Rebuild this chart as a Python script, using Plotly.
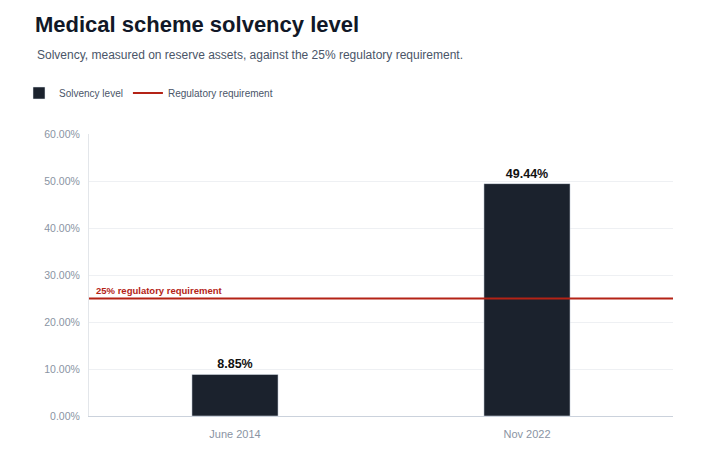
import plotly.graph_objects as go

# chart data
periods = ['June 2014', 'Nov 2022']
solvency = [8.85, 49.44]
requirement = 25
y_ticks = [0, 10, 20, 30, 40, 50, 60]

bar_colour = '#1b222d'
red = '#b42316'
font = 'Liberation Sans, Arial, sans-serif'

# the page puts the figure 8px in from the window corner
OFF = 8

fig = go.Figure()
fig.add_trace(go.Bar(
    x=periods, y=solvency, name='Solvency level',
    marker=dict(color=bar_colour),
    width=0.295,
    text=['%.2f%%' % v for v in solvency],
    textposition='outside',
    textfont=dict(size=12.5, color='#111111', family=font, weight='bold'),
    cliponaxis=False))

# regulatory line across the whole plot
fig.add_shape(type='line', xref='paper', x0=0, x1=1, yref='y',
              y0=requirement, y1=requirement,
              line=dict(color=red, width=2),
              showlegend=True, name='Regulatory requirement')
fig.add_annotation(xref='paper', x=0, y=requirement, text='<b>25% regulatory requirement</b>',
                   showarrow=False, xanchor='left', yanchor='bottom',
                   xshift=5, yshift=1, font=dict(size=9.5, color=red, family=font))

fig.add_annotation(xref='paper', yref='paper', x=(35 - 89) / 584, y=(416 - 53) / 282,
                   text='Solvency, measured on reserve assets, against the 25% regulatory requirement.',
                   showarrow=False, xanchor='left', yanchor='middle', yshift=-2,
                   font=dict(size=12, color='#4a5568', family=font))

fig.update_layout(
    width=728, height=468,
    margin=dict(l=89 - OFF, r=55 + OFF, t=134 - OFF, b=52 + OFF, autoexpand=False),
    paper_bgcolor='white', plot_bgcolor='white',
    font=dict(family=font),
    title=dict(text='<b>Medical scheme solvency level</b>', xref='container',
               x=(35 - OFF) / 728, xanchor='left', y=1 - (24 - OFF) / 468, yanchor='middle',
               font=dict(size=22, color='#111827', family=font)),
    legend=dict(orientation='h', x=(19 - 89) / 584, y=(416 - 93) / 282,
                xanchor='left', yanchor='middle',
                font=dict(size=10, color='#4a5568', family=font),
                itemwidth=30, bgcolor='rgba(0,0,0,0)'),
    showlegend=True,
)
fig.update_xaxes(showline=True, linecolor='#cbd2dc', linewidth=1,
                 tickfont=dict(size=11, color='#8a94a3'), ticks='', ticklabelstandoff=8)
fig.update_yaxes(range=[0, 60], tickvals=y_ticks,
                 ticktext=['%.2f%%' % v for v in y_ticks],
                 gridcolor='#eef0f3', showline=True, linecolor='#e3e6ea', zeroline=False,
                 tickfont=dict(size=10.5, color='#8a94a3'), ticklabelstandoff=6)

fig.write_html('out.html')
